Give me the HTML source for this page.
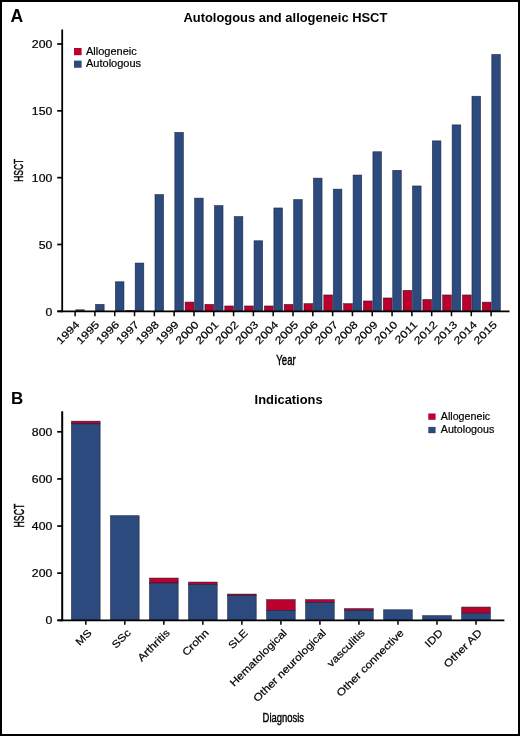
<!DOCTYPE html>
<html><head><meta charset="utf-8"><style>
html,body{margin:0;padding:0;background:#fff;}
body{width:520px;height:736px;overflow:hidden;}
svg{display:block;font-family:"Liberation Sans",sans-serif;will-change:transform;}
</style></head><body>
<svg width="520" height="736" viewBox="0 0 520 736">
<rect x="0" y="0" width="520" height="736" fill="#fff"/>
<rect x="75.75" y="309.75" width="8.60" height="1.70" fill="#2d4a7f" stroke="#0d1426" stroke-opacity="0.7" stroke-width="0.7"/>
<rect x="95.56" y="304.35" width="8.60" height="7.10" fill="#2d4a7f" stroke="#0d1426" stroke-opacity="0.7" stroke-width="0.7"/>
<rect x="115.37" y="281.75" width="8.60" height="29.70" fill="#2d4a7f" stroke="#0d1426" stroke-opacity="0.7" stroke-width="0.7"/>
<rect x="135.18" y="263.05" width="8.60" height="48.40" fill="#2d4a7f" stroke="#0d1426" stroke-opacity="0.7" stroke-width="0.7"/>
<rect x="125.68" y="310.35" width="8.80" height="1.10" fill="#bb002d" stroke="#0d1426" stroke-opacity="0.7" stroke-width="0.7"/>
<rect x="154.99" y="194.55" width="8.60" height="116.90" fill="#2d4a7f" stroke="#0d1426" stroke-opacity="0.7" stroke-width="0.7"/>
<rect x="174.80" y="132.35" width="8.60" height="179.10" fill="#2d4a7f" stroke="#0d1426" stroke-opacity="0.7" stroke-width="0.7"/>
<rect x="194.61" y="198.15" width="8.60" height="113.30" fill="#2d4a7f" stroke="#0d1426" stroke-opacity="0.7" stroke-width="0.7"/>
<rect x="185.11" y="302.05" width="8.80" height="9.40" fill="#bb002d" stroke="#0d1426" stroke-opacity="0.7" stroke-width="0.7"/>
<rect x="214.42" y="205.55" width="8.60" height="105.90" fill="#2d4a7f" stroke="#0d1426" stroke-opacity="0.7" stroke-width="0.7"/>
<rect x="204.92" y="304.35" width="8.80" height="7.10" fill="#bb002d" stroke="#0d1426" stroke-opacity="0.7" stroke-width="0.7"/>
<rect x="234.23" y="216.55" width="8.60" height="94.90" fill="#2d4a7f" stroke="#0d1426" stroke-opacity="0.7" stroke-width="0.7"/>
<rect x="224.73" y="305.95" width="8.80" height="5.50" fill="#bb002d" stroke="#0d1426" stroke-opacity="0.7" stroke-width="0.7"/>
<rect x="254.04" y="240.75" width="8.60" height="70.70" fill="#2d4a7f" stroke="#0d1426" stroke-opacity="0.7" stroke-width="0.7"/>
<rect x="244.54" y="305.95" width="8.80" height="5.50" fill="#bb002d" stroke="#0d1426" stroke-opacity="0.7" stroke-width="0.7"/>
<rect x="273.85" y="207.95" width="8.60" height="103.50" fill="#2d4a7f" stroke="#0d1426" stroke-opacity="0.7" stroke-width="0.7"/>
<rect x="264.35" y="305.95" width="8.80" height="5.50" fill="#bb002d" stroke="#0d1426" stroke-opacity="0.7" stroke-width="0.7"/>
<rect x="293.66" y="199.55" width="8.60" height="111.90" fill="#2d4a7f" stroke="#0d1426" stroke-opacity="0.7" stroke-width="0.7"/>
<rect x="284.16" y="304.35" width="8.80" height="7.10" fill="#bb002d" stroke="#0d1426" stroke-opacity="0.7" stroke-width="0.7"/>
<rect x="313.47" y="178.15" width="8.60" height="133.30" fill="#2d4a7f" stroke="#0d1426" stroke-opacity="0.7" stroke-width="0.7"/>
<rect x="303.97" y="303.65" width="8.80" height="7.80" fill="#bb002d" stroke="#0d1426" stroke-opacity="0.7" stroke-width="0.7"/>
<rect x="333.28" y="189.15" width="8.60" height="122.30" fill="#2d4a7f" stroke="#0d1426" stroke-opacity="0.7" stroke-width="0.7"/>
<rect x="323.78" y="294.95" width="8.80" height="16.50" fill="#bb002d" stroke="#0d1426" stroke-opacity="0.7" stroke-width="0.7"/>
<rect x="353.09" y="175.05" width="8.60" height="136.40" fill="#2d4a7f" stroke="#0d1426" stroke-opacity="0.7" stroke-width="0.7"/>
<rect x="343.59" y="303.65" width="8.80" height="7.80" fill="#bb002d" stroke="#0d1426" stroke-opacity="0.7" stroke-width="0.7"/>
<rect x="372.90" y="151.75" width="8.60" height="159.70" fill="#2d4a7f" stroke="#0d1426" stroke-opacity="0.7" stroke-width="0.7"/>
<rect x="363.40" y="300.95" width="8.80" height="10.50" fill="#bb002d" stroke="#0d1426" stroke-opacity="0.7" stroke-width="0.7"/>
<rect x="392.71" y="170.35" width="8.60" height="141.10" fill="#2d4a7f" stroke="#0d1426" stroke-opacity="0.7" stroke-width="0.7"/>
<rect x="383.21" y="297.95" width="8.80" height="13.50" fill="#bb002d" stroke="#0d1426" stroke-opacity="0.7" stroke-width="0.7"/>
<rect x="412.52" y="185.95" width="8.60" height="125.50" fill="#2d4a7f" stroke="#0d1426" stroke-opacity="0.7" stroke-width="0.7"/>
<rect x="403.02" y="290.35" width="8.80" height="21.10" fill="#bb002d" stroke="#0d1426" stroke-opacity="0.7" stroke-width="0.7"/>
<rect x="432.33" y="140.85" width="8.60" height="170.60" fill="#2d4a7f" stroke="#0d1426" stroke-opacity="0.7" stroke-width="0.7"/>
<rect x="422.83" y="299.45" width="8.80" height="12.00" fill="#bb002d" stroke="#0d1426" stroke-opacity="0.7" stroke-width="0.7"/>
<rect x="452.14" y="124.85" width="8.60" height="186.60" fill="#2d4a7f" stroke="#0d1426" stroke-opacity="0.7" stroke-width="0.7"/>
<rect x="442.64" y="294.95" width="8.80" height="16.50" fill="#bb002d" stroke="#0d1426" stroke-opacity="0.7" stroke-width="0.7"/>
<rect x="471.95" y="96.25" width="8.60" height="215.20" fill="#2d4a7f" stroke="#0d1426" stroke-opacity="0.7" stroke-width="0.7"/>
<rect x="462.45" y="294.95" width="8.80" height="16.50" fill="#bb002d" stroke="#0d1426" stroke-opacity="0.7" stroke-width="0.7"/>
<rect x="491.76" y="54.45" width="8.60" height="257.00" fill="#2d4a7f" stroke="#0d1426" stroke-opacity="0.7" stroke-width="0.7"/>
<rect x="482.26" y="302.15" width="8.80" height="9.30" fill="#bb002d" stroke="#0d1426" stroke-opacity="0.7" stroke-width="0.7"/>
<line x1="62.2" y1="29.6" x2="62.2" y2="312.2" stroke="#000" stroke-width="1.8"/>
<line x1="57.5" y1="311.40000000000003" x2="509.5" y2="311.40000000000003" stroke="#000" stroke-width="1.8"/>
<line x1="57.2" y1="311.30" x2="62" y2="311.30" stroke="#000" stroke-width="1.7"/>
<text transform="translate(52.30,315.50) scale(1.180,1)" x="0" y="0" text-anchor="end" font-size="10.4" fill="#000" stroke="#000" stroke-width="0.2">0</text>
<line x1="57.2" y1="244.48" x2="62" y2="244.48" stroke="#000" stroke-width="1.7"/>
<text transform="translate(52.30,248.68) scale(1.180,1)" x="0" y="0" text-anchor="end" font-size="10.4" fill="#000" stroke="#000" stroke-width="0.2">50</text>
<line x1="57.2" y1="177.65" x2="62" y2="177.65" stroke="#000" stroke-width="1.7"/>
<text transform="translate(52.30,181.85) scale(1.180,1)" x="0" y="0" text-anchor="end" font-size="10.4" fill="#000" stroke="#000" stroke-width="0.2">100</text>
<line x1="57.2" y1="110.83" x2="62" y2="110.83" stroke="#000" stroke-width="1.7"/>
<text transform="translate(52.30,115.03) scale(1.180,1)" x="0" y="0" text-anchor="end" font-size="10.4" fill="#000" stroke="#000" stroke-width="0.2">150</text>
<line x1="57.2" y1="44.00" x2="62" y2="44.00" stroke="#000" stroke-width="1.7"/>
<text transform="translate(52.30,48.20) scale(1.180,1)" x="0" y="0" text-anchor="end" font-size="10.4" fill="#000" stroke="#000" stroke-width="0.2">200</text>
<line x1="75.10" y1="311.3" x2="75.10" y2="316.2" stroke="#000" stroke-width="1.5"/>
<text transform="translate(80.10,325.30) rotate(-45) scale(1.200,1)" x="0" y="0" text-anchor="end" font-size="10.4" fill="#000" stroke="#000" stroke-width="0.2">1994</text>
<line x1="94.91" y1="311.3" x2="94.91" y2="316.2" stroke="#000" stroke-width="1.5"/>
<text transform="translate(99.98,325.30) rotate(-45) scale(1.200,1)" x="0" y="0" text-anchor="end" font-size="10.4" fill="#000" stroke="#000" stroke-width="0.2">1995</text>
<line x1="114.72" y1="311.3" x2="114.72" y2="316.2" stroke="#000" stroke-width="1.5"/>
<text transform="translate(119.86,325.30) rotate(-45) scale(1.200,1)" x="0" y="0" text-anchor="end" font-size="10.4" fill="#000" stroke="#000" stroke-width="0.2">1996</text>
<line x1="134.53" y1="311.3" x2="134.53" y2="316.2" stroke="#000" stroke-width="1.5"/>
<text transform="translate(139.74,325.30) rotate(-45) scale(1.200,1)" x="0" y="0" text-anchor="end" font-size="10.4" fill="#000" stroke="#000" stroke-width="0.2">1997</text>
<line x1="154.34" y1="311.3" x2="154.34" y2="316.2" stroke="#000" stroke-width="1.5"/>
<text transform="translate(159.62,325.30) rotate(-45) scale(1.200,1)" x="0" y="0" text-anchor="end" font-size="10.4" fill="#000" stroke="#000" stroke-width="0.2">1998</text>
<line x1="174.15" y1="311.3" x2="174.15" y2="316.2" stroke="#000" stroke-width="1.5"/>
<text transform="translate(179.50,325.30) rotate(-45) scale(1.200,1)" x="0" y="0" text-anchor="end" font-size="10.4" fill="#000" stroke="#000" stroke-width="0.2">1999</text>
<line x1="193.96" y1="311.3" x2="193.96" y2="316.2" stroke="#000" stroke-width="1.5"/>
<text transform="translate(199.38,325.30) rotate(-45) scale(1.200,1)" x="0" y="0" text-anchor="end" font-size="10.4" fill="#000" stroke="#000" stroke-width="0.2">2000</text>
<line x1="213.77" y1="311.3" x2="213.77" y2="316.2" stroke="#000" stroke-width="1.5"/>
<text transform="translate(219.26,325.30) rotate(-45) scale(1.200,1)" x="0" y="0" text-anchor="end" font-size="10.4" fill="#000" stroke="#000" stroke-width="0.2">2001</text>
<line x1="233.58" y1="311.3" x2="233.58" y2="316.2" stroke="#000" stroke-width="1.5"/>
<text transform="translate(239.14,325.30) rotate(-45) scale(1.200,1)" x="0" y="0" text-anchor="end" font-size="10.4" fill="#000" stroke="#000" stroke-width="0.2">2002</text>
<line x1="253.39" y1="311.3" x2="253.39" y2="316.2" stroke="#000" stroke-width="1.5"/>
<text transform="translate(259.02,325.30) rotate(-45) scale(1.200,1)" x="0" y="0" text-anchor="end" font-size="10.4" fill="#000" stroke="#000" stroke-width="0.2">2003</text>
<line x1="273.20" y1="311.3" x2="273.20" y2="316.2" stroke="#000" stroke-width="1.5"/>
<text transform="translate(278.90,325.30) rotate(-45) scale(1.200,1)" x="0" y="0" text-anchor="end" font-size="10.4" fill="#000" stroke="#000" stroke-width="0.2">2004</text>
<line x1="293.01" y1="311.3" x2="293.01" y2="316.2" stroke="#000" stroke-width="1.5"/>
<text transform="translate(298.78,325.30) rotate(-45) scale(1.200,1)" x="0" y="0" text-anchor="end" font-size="10.4" fill="#000" stroke="#000" stroke-width="0.2">2005</text>
<line x1="312.82" y1="311.3" x2="312.82" y2="316.2" stroke="#000" stroke-width="1.5"/>
<text transform="translate(318.66,325.30) rotate(-45) scale(1.200,1)" x="0" y="0" text-anchor="end" font-size="10.4" fill="#000" stroke="#000" stroke-width="0.2">2006</text>
<line x1="332.63" y1="311.3" x2="332.63" y2="316.2" stroke="#000" stroke-width="1.5"/>
<text transform="translate(338.54,325.30) rotate(-45) scale(1.200,1)" x="0" y="0" text-anchor="end" font-size="10.4" fill="#000" stroke="#000" stroke-width="0.2">2007</text>
<line x1="352.44" y1="311.3" x2="352.44" y2="316.2" stroke="#000" stroke-width="1.5"/>
<text transform="translate(358.42,325.30) rotate(-45) scale(1.200,1)" x="0" y="0" text-anchor="end" font-size="10.4" fill="#000" stroke="#000" stroke-width="0.2">2008</text>
<line x1="372.25" y1="311.3" x2="372.25" y2="316.2" stroke="#000" stroke-width="1.5"/>
<text transform="translate(378.30,325.30) rotate(-45) scale(1.200,1)" x="0" y="0" text-anchor="end" font-size="10.4" fill="#000" stroke="#000" stroke-width="0.2">2009</text>
<line x1="392.06" y1="311.3" x2="392.06" y2="316.2" stroke="#000" stroke-width="1.5"/>
<text transform="translate(398.18,325.30) rotate(-45) scale(1.200,1)" x="0" y="0" text-anchor="end" font-size="10.4" fill="#000" stroke="#000" stroke-width="0.2">2010</text>
<line x1="411.87" y1="311.3" x2="411.87" y2="316.2" stroke="#000" stroke-width="1.5"/>
<text transform="translate(418.06,325.30) rotate(-45) scale(1.200,1)" x="0" y="0" text-anchor="end" font-size="10.4" fill="#000" stroke="#000" stroke-width="0.2">2011</text>
<line x1="431.68" y1="311.3" x2="431.68" y2="316.2" stroke="#000" stroke-width="1.5"/>
<text transform="translate(437.94,325.30) rotate(-45) scale(1.200,1)" x="0" y="0" text-anchor="end" font-size="10.4" fill="#000" stroke="#000" stroke-width="0.2">2012</text>
<line x1="451.49" y1="311.3" x2="451.49" y2="316.2" stroke="#000" stroke-width="1.5"/>
<text transform="translate(457.82,325.30) rotate(-45) scale(1.200,1)" x="0" y="0" text-anchor="end" font-size="10.4" fill="#000" stroke="#000" stroke-width="0.2">2013</text>
<line x1="471.30" y1="311.3" x2="471.30" y2="316.2" stroke="#000" stroke-width="1.5"/>
<text transform="translate(477.70,325.30) rotate(-45) scale(1.200,1)" x="0" y="0" text-anchor="end" font-size="10.4" fill="#000" stroke="#000" stroke-width="0.2">2014</text>
<line x1="491.11" y1="311.3" x2="491.11" y2="316.2" stroke="#000" stroke-width="1.5"/>
<text transform="translate(497.58,325.30) rotate(-45) scale(1.200,1)" x="0" y="0" text-anchor="end" font-size="10.4" fill="#000" stroke="#000" stroke-width="0.2">2015</text>
<text transform="translate(10.50,21.70)" x="0" y="0" font-size="17.6" font-weight="bold" fill="#000">A</text>
<text transform="translate(183.40,21.60) scale(1.044,1)" x="0" y="0" font-size="12.4" font-weight="bold" fill="#000">Autologous and allogeneic HSCT</text>
<rect x="74" y="48" width="7.6" height="7.2" fill="#bb002d"/>
<rect x="74" y="60.6" width="7.6" height="7.2" fill="#2d4a7f"/>
<text transform="translate(86.00,54.90)" x="0" y="0" font-size="11" fill="#000" stroke="#000" stroke-width="0.2">Allogeneic</text>
<text transform="translate(86.00,67.40)" x="0" y="0" font-size="11" fill="#000" stroke="#000" stroke-width="0.2">Autologous</text>
<text transform="translate(22.60,170.30) rotate(-90) scale(0.620,1)" x="0" y="0" text-anchor="middle" font-size="13.6" fill="#000" stroke="#000" stroke-width="0.45">HSCT</text>
<text transform="translate(286.00,364.50) scale(0.660,1)" x="0" y="0" text-anchor="middle" font-size="14.5" fill="#000" stroke="#000" stroke-width="0.45">Year</text>
<rect x="71.45" y="421.15" width="28.70" height="2.70" fill="#bb002d" stroke="#0d1426" stroke-opacity="0.7" stroke-width="0.7"/>
<rect x="71.45" y="423.85" width="28.70" height="196.60" fill="#2d4a7f" stroke="#0d1426" stroke-opacity="0.7" stroke-width="0.7"/>
<rect x="110.47" y="515.65" width="28.70" height="104.80" fill="#2d4a7f" stroke="#0d1426" stroke-opacity="0.7" stroke-width="0.7"/>
<rect x="149.49" y="578.05" width="28.70" height="5.00" fill="#bb002d" stroke="#0d1426" stroke-opacity="0.7" stroke-width="0.7"/>
<rect x="149.49" y="583.05" width="28.70" height="37.40" fill="#2d4a7f" stroke="#0d1426" stroke-opacity="0.7" stroke-width="0.7"/>
<rect x="188.51" y="582.05" width="28.70" height="2.30" fill="#bb002d" stroke="#0d1426" stroke-opacity="0.7" stroke-width="0.7"/>
<rect x="188.51" y="584.35" width="28.70" height="36.10" fill="#2d4a7f" stroke="#0d1426" stroke-opacity="0.7" stroke-width="0.7"/>
<rect x="227.53" y="594.05" width="28.70" height="1.50" fill="#bb002d" stroke="#0d1426" stroke-opacity="0.7" stroke-width="0.7"/>
<rect x="227.53" y="595.55" width="28.70" height="24.90" fill="#2d4a7f" stroke="#0d1426" stroke-opacity="0.7" stroke-width="0.7"/>
<rect x="266.55" y="599.60" width="28.70" height="10.75" fill="#bb002d" stroke="#0d1426" stroke-opacity="0.7" stroke-width="0.7"/>
<rect x="266.55" y="610.35" width="28.70" height="10.10" fill="#2d4a7f" stroke="#0d1426" stroke-opacity="0.7" stroke-width="0.7"/>
<rect x="305.57" y="599.60" width="28.70" height="2.75" fill="#bb002d" stroke="#0d1426" stroke-opacity="0.7" stroke-width="0.7"/>
<rect x="305.57" y="602.35" width="28.70" height="18.10" fill="#2d4a7f" stroke="#0d1426" stroke-opacity="0.7" stroke-width="0.7"/>
<rect x="344.59" y="608.60" width="28.70" height="1.75" fill="#bb002d" stroke="#0d1426" stroke-opacity="0.7" stroke-width="0.7"/>
<rect x="344.59" y="610.35" width="28.70" height="10.10" fill="#2d4a7f" stroke="#0d1426" stroke-opacity="0.7" stroke-width="0.7"/>
<rect x="383.61" y="609.75" width="28.70" height="10.70" fill="#2d4a7f" stroke="#0d1426" stroke-opacity="0.7" stroke-width="0.7"/>
<rect x="422.63" y="615.65" width="28.70" height="4.80" fill="#2d4a7f" stroke="#0d1426" stroke-opacity="0.7" stroke-width="0.7"/>
<rect x="461.65" y="607.05" width="28.70" height="6.20" fill="#bb002d" stroke="#0d1426" stroke-opacity="0.7" stroke-width="0.7"/>
<rect x="461.65" y="613.25" width="28.70" height="7.20" fill="#2d4a7f" stroke="#0d1426" stroke-opacity="0.7" stroke-width="0.7"/>
<line x1="62.2" y1="411.3" x2="62.2" y2="621.2" stroke="#000" stroke-width="2"/>
<line x1="57.7" y1="620.3" x2="504.4" y2="620.3" stroke="#000" stroke-width="1.8"/>
<line x1="57.2" y1="620.30" x2="62" y2="620.30" stroke="#000" stroke-width="1.7"/>
<text transform="translate(52.30,624.10) scale(1.180,1)" x="0" y="0" text-anchor="end" font-size="10.4" fill="#000" stroke="#000" stroke-width="0.2">0</text>
<line x1="57.2" y1="573.17" x2="62" y2="573.17" stroke="#000" stroke-width="1.7"/>
<text transform="translate(52.30,576.97) scale(1.180,1)" x="0" y="0" text-anchor="end" font-size="10.4" fill="#000" stroke="#000" stroke-width="0.2">200</text>
<line x1="57.2" y1="526.05" x2="62" y2="526.05" stroke="#000" stroke-width="1.7"/>
<text transform="translate(52.30,529.85) scale(1.180,1)" x="0" y="0" text-anchor="end" font-size="10.4" fill="#000" stroke="#000" stroke-width="0.2">400</text>
<line x1="57.2" y1="478.93" x2="62" y2="478.93" stroke="#000" stroke-width="1.7"/>
<text transform="translate(52.30,482.73) scale(1.180,1)" x="0" y="0" text-anchor="end" font-size="10.4" fill="#000" stroke="#000" stroke-width="0.2">600</text>
<line x1="57.2" y1="431.80" x2="62" y2="431.80" stroke="#000" stroke-width="1.7"/>
<text transform="translate(52.30,435.60) scale(1.180,1)" x="0" y="0" text-anchor="end" font-size="10.4" fill="#000" stroke="#000" stroke-width="0.2">800</text>
<line x1="85.80" y1="620.3" x2="85.80" y2="624.8" stroke="#000" stroke-width="1.5"/>
<text transform="translate(92.40,633.50) rotate(-45) scale(1.150,1)" x="0" y="0" text-anchor="end" font-size="10.4" fill="#000" stroke="#000" stroke-width="0.2">MS</text>
<line x1="124.82" y1="620.3" x2="124.82" y2="624.8" stroke="#000" stroke-width="1.5"/>
<text transform="translate(131.42,633.50) rotate(-45) scale(1.150,1)" x="0" y="0" text-anchor="end" font-size="10.4" fill="#000" stroke="#000" stroke-width="0.2">SSc</text>
<line x1="163.84" y1="620.3" x2="163.84" y2="624.8" stroke="#000" stroke-width="1.5"/>
<text transform="translate(170.44,633.50) rotate(-45) scale(1.150,1)" x="0" y="0" text-anchor="end" font-size="10.4" fill="#000" stroke="#000" stroke-width="0.2">Arthritis</text>
<line x1="202.86" y1="620.3" x2="202.86" y2="624.8" stroke="#000" stroke-width="1.5"/>
<text transform="translate(209.46,633.50) rotate(-45) scale(1.150,1)" x="0" y="0" text-anchor="end" font-size="10.4" fill="#000" stroke="#000" stroke-width="0.2">Crohn</text>
<line x1="241.88" y1="620.3" x2="241.88" y2="624.8" stroke="#000" stroke-width="1.5"/>
<text transform="translate(248.48,633.50) rotate(-45) scale(1.150,1)" x="0" y="0" text-anchor="end" font-size="10.4" fill="#000" stroke="#000" stroke-width="0.2">SLE</text>
<line x1="280.90" y1="620.3" x2="280.90" y2="624.8" stroke="#000" stroke-width="1.5"/>
<text transform="translate(287.50,633.50) rotate(-45) scale(1.150,1)" x="0" y="0" text-anchor="end" font-size="10.4" fill="#000" stroke="#000" stroke-width="0.2">Hematological</text>
<line x1="319.92" y1="620.3" x2="319.92" y2="624.8" stroke="#000" stroke-width="1.5"/>
<text transform="translate(326.52,633.50) rotate(-45) scale(1.150,1)" x="0" y="0" text-anchor="end" font-size="10.4" fill="#000" stroke="#000" stroke-width="0.2">Other neurological</text>
<line x1="358.94" y1="620.3" x2="358.94" y2="624.8" stroke="#000" stroke-width="1.5"/>
<text transform="translate(365.54,633.50) rotate(-45) scale(1.150,1)" x="0" y="0" text-anchor="end" font-size="10.4" fill="#000" stroke="#000" stroke-width="0.2">vasculitis</text>
<line x1="397.96" y1="620.3" x2="397.96" y2="624.8" stroke="#000" stroke-width="1.5"/>
<text transform="translate(404.56,633.50) rotate(-45) scale(1.150,1)" x="0" y="0" text-anchor="end" font-size="10.4" fill="#000" stroke="#000" stroke-width="0.2">Other connective</text>
<line x1="436.98" y1="620.3" x2="436.98" y2="624.8" stroke="#000" stroke-width="1.5"/>
<text transform="translate(443.58,633.50) rotate(-45) scale(1.150,1)" x="0" y="0" text-anchor="end" font-size="10.4" fill="#000" stroke="#000" stroke-width="0.2">IDD</text>
<line x1="476.00" y1="620.3" x2="476.00" y2="624.8" stroke="#000" stroke-width="1.5"/>
<text transform="translate(482.60,633.50) rotate(-45) scale(1.150,1)" x="0" y="0" text-anchor="end" font-size="10.4" fill="#000" stroke="#000" stroke-width="0.2">Other AD</text>
<text transform="translate(11.00,404.00)" x="0" y="0" font-size="17" font-weight="bold" fill="#000">B</text>
<text transform="translate(254.60,404.20) scale(1.075,1)" x="0" y="0" font-size="12" font-weight="bold" fill="#000">Indications</text>
<rect x="428.3" y="413.5" width="7.3" height="6.3" fill="#bb002d"/>
<rect x="428.3" y="426.9" width="7.3" height="6.3" fill="#2d4a7f"/>
<text transform="translate(440.80,420.20)" x="0" y="0" font-size="10.7" fill="#000" stroke="#000" stroke-width="0.2">Allogeneic</text>
<text transform="translate(440.80,432.70)" x="0" y="0" font-size="10.7" fill="#000" stroke="#000" stroke-width="0.2">Autologous</text>
<text transform="translate(24.40,515.60) rotate(-90) scale(0.600,1)" x="0" y="0" text-anchor="middle" font-size="14.5" fill="#000" stroke="#000" stroke-width="0.45">HSCT</text>
<text transform="translate(283.30,722.20) scale(0.700,1)" x="0" y="0" text-anchor="middle" font-size="13.5" fill="#000" stroke="#000" stroke-width="0.45">Diagnosis</text>
<rect x="1" y="1" width="518" height="734" fill="none" stroke="#000" stroke-width="2"/>
</svg>
</body></html>
